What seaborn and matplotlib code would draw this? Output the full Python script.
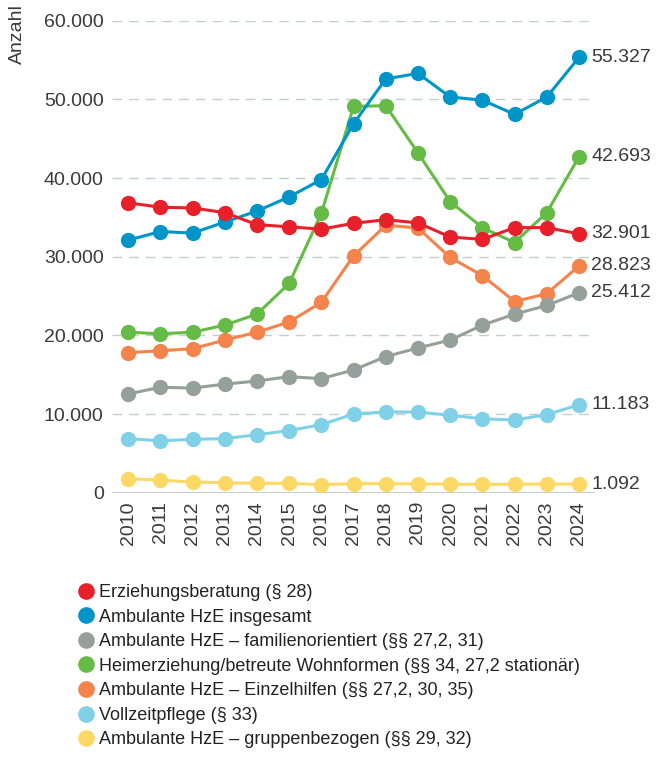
import pandas as pd
import seaborn as sns
import matplotlib.pyplot as plt
from matplotlib.lines import Line2D
from matplotlib.ticker import FuncFormatter

jahre = list(range(2010, 2025))

# Werte
erziehungsberatung = [36860, 36280, 36200, 35600, 34070, 33800, 33500, 34250, 34700, 34300, 32500, 32200, 33700, 33700, 32901]
ambulant_gesamt = [32100, 33200, 33000, 34400, 35800, 37600, 39800, 46900, 52600, 53300, 50300, 49900, 48100, 50300, 55327]
familienorientiert = [12550, 13400, 13300, 13800, 14200, 14750, 14500, 15600, 17300, 18400, 19400, 21300, 22700, 23800, 25412]
heimerziehung = [20400, 20200, 20400, 21300, 22700, 26600, 35500, 49100, 49200, 43200, 37000, 33700, 31800, 35600, 42693]
einzelhilfen = [17800, 18050, 18300, 19400, 20400, 21700, 24200, 30100, 34000, 33650, 29900, 27600, 24300, 25300, 28823]
vollzeitpflege = [6870, 6600, 6780, 6870, 7370, 7900, 8650, 10000, 10260, 10260, 9840, 9400, 9240, 9920, 11183]
gruppenbezogen = [1780, 1600, 1360, 1270, 1190, 1190, 1020, 1150, 1150, 1120, 1080, 1060, 1080, 1100, 1092]

namen = [
    "Erziehungsberatung (§ 28)",
    "Ambulante HzE insgesamt",
    "Ambulante HzE – familienorientiert (§§ 27,2, 31)",
    "Heimerziehung/betreute Wohnformen (§§ 34, 27,2 stationär)",
    "Ambulante HzE – Einzelhilfen (§§ 27,2, 30, 35)",
    "Vollzeitpflege (§ 33)",
    "Ambulante HzE – gruppenbezogen (§§ 29, 32)",
]
reihen = [erziehungsberatung, ambulant_gesamt, familienorientiert, heimerziehung,
          einzelhilfen, vollzeitpflege, gruppenbezogen]
farben = ["#E8202A", "#0095C8", "#95A09A", "#66BB46", "#F4834C", "#80D0E8", "#FDD865"]

df = pd.concat(
    [pd.DataFrame({"Jahr": jahre, "Anzahl": w, "Reihe": n}) for n, w in zip(namen, reihen)],
    ignore_index=True,
)

sns.set_style("white")
plt.rcParams["font.family"] = ["Liberation Sans", "DejaVu Sans"]
textfarbe = "#3a3a3a"

fig = plt.figure(figsize=(6.59, 7.58), dpi=100)
ax = fig.add_axes([0.170, 0.350, 0.733, 0.6227])

# umgekehrte Reihenfolge, damit die erste Reihe oben liegt
for n, c in reversed(list(zip(namen, farben))):
    sns.lineplot(data=df[df["Reihe"] == n], x="Jahr", y="Anzahl", color=c,
                 marker="o", markersize=11, markeredgewidth=0, linewidth=2.2,
                 ax=ax, legend=False)

ax.set_xlim(2009.5, 2024.5)
ax.set_ylim(0, 60000)
ax.set_yticks(range(0, 60001, 10000))
ax.set_xticks(jahre)
ax.yaxis.set_major_formatter(FuncFormatter(lambda v, p: f"{int(v):,}".replace(",", ".")))
ax.tick_params(axis="y", length=0, pad=6, labelsize=14, labelcolor=textfarbe)
ax.tick_params(axis="x", length=0, pad=6, labelsize=14, labelcolor=textfarbe, labelrotation=90)
ax.set_xlabel("")
ax.set_ylabel("")

for s in ax.spines.values():
    s.set_visible(False)
for y in range(10000, 60001, 10000):
    ax.axhline(y, color="#C5CEC9", linewidth=1, linestyle=(0, (7, 5)), zorder=0)
ax.axhline(0, color="#C5CEC9", linewidth=1.5, zorder=0)

# Endwerte rechts
for w, c in zip(reihen, farben):
    ax.annotate(f"{w[-1]:,}".replace(",", "."), (jahre[-1], w[-1]), xytext=(9, 0),
                textcoords="offset points", va="center", ha="left", fontsize=14,
                color=textfarbe, annotation_clip=False)

fig.text(17 / 659, 1 - 4 / 758, "Anzahl", rotation=90, ha="center", va="top",
         fontsize=14, color=textfarbe)

handles = [Line2D([], [], marker="o", linestyle="", color=c, markersize=12, markeredgewidth=0)
           for c in farben]
fig.legend(handles, namen, loc="upper left", bbox_to_anchor=(80 / 659, 1 - 584 / 758),
           frameon=False, fontsize=13, handlelength=0.7, handletextpad=0.35,
           labelspacing=0.42, borderaxespad=0, borderpad=0, labelcolor="#222222")

fig.savefig("out.png", dpi=100)
